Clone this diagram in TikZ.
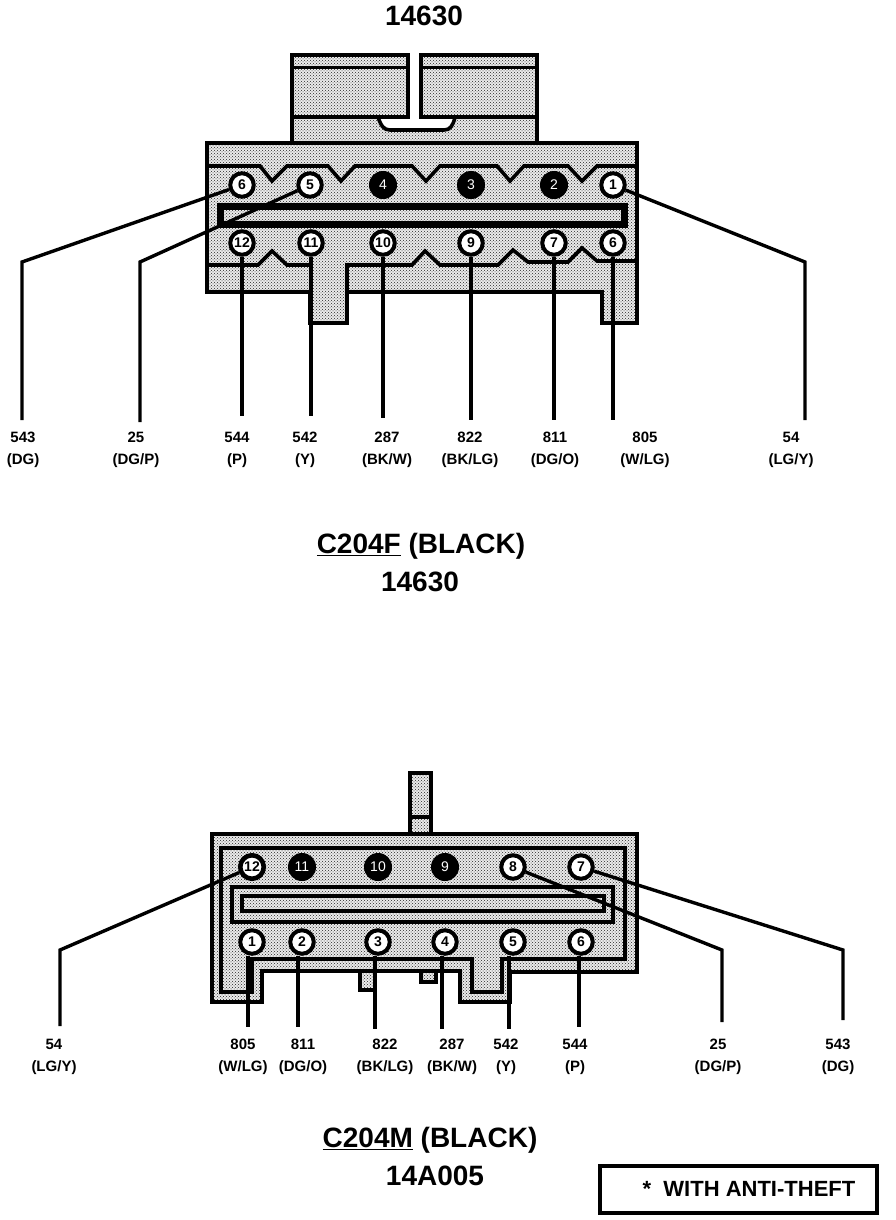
\documentclass[tikz,border=0pt]{standalone}
\usepackage{fontspec}
\setmainfont{Liberation Sans}
\usetikzlibrary{patterns}
\tikzset{
  x=1pt,y=-1pt,
  stip/.style={preaction={fill=black!8},pattern=crosshatch dots,pattern color=black!85},
  outl/.style={draw=black,line width=3.6pt,line join=miter},
  wire/.style={draw=black,line width=3.4pt,line join=miter},
  pin/.style={circle,draw=black,fill=white,line width=4pt,minimum size=23.5pt,inner sep=0pt,font=\fontsize{14}{14}\selectfont\bfseries},
  dead/.style={circle,draw=black,fill=black,text=white,line width=1pt,minimum size=27pt,inner sep=0pt,font=\fontsize{14}{14}\selectfont},
  wl/.style={align=center,inner sep=0pt,font=\fontsize{15}{21.5}\selectfont\bfseries},
  title/.style={inner sep=0pt,font=\fontsize{28}{28}\selectfont\bfseries},
}
\begin{document}
\begin{tikzpicture}
\useasboundingbox (0,0) rectangle (896,1220);
% ---- C204F connector
\path[stip] (292,55) -- (408,55) -- (408,117) -- (378,117) .. controls (381,126) and (384,130) .. (390,130) -- (444,130) .. controls (450,130) and (453,126) .. (455,117) -- (421,117) -- (421,55) -- (537,55) -- (537,143) -- (292,143) -- cycle;
\draw[outl] (292,143) -- (292,55) -- (408,55) -- (408,117) -- (292,117);
\draw[outl] (537,143) -- (537,55) -- (421,55) -- (421,117) -- (537,117);
\draw[outl] (292,67.5) -- (408,67.5) (421,67.5) -- (537,67.5);
\draw[outl] (378,117) .. controls (381,126) and (384,130) .. (390,130) -- (444,130) .. controls (450,130) and (453,126) .. (455,117);
\path[stip] (207,143) -- (637,143) -- (637,323) -- (602,323) -- (602,292) -- (347,292) -- (347,323) -- (310,323) -- (310,292) -- (207,292) -- cycle;
\draw[outl] (207,143) -- (637,143) -- (637,323) -- (602,323) -- (602,292) -- (347,292) -- (347,323) -- (310,323) -- (310,292) -- (207,292) -- cycle;
\draw[outl] (207,166) -- (260,166) -- (272,181) -- (287,166) -- (328,166) -- (341,181) -- (355,166) -- (412,166) -- (426,181) -- (440,166) -- (497,166) -- (510,181) -- (524,166) -- (568,166) -- (582,181) -- (597,166) -- (637,166);
\draw[outl] (207,265) -- (258,265) -- (272,251) -- (287,265) -- (310,265);
\draw[outl] (347,323) -- (347,265) -- (412,265) -- (425,251) -- (440,265) -- (498,265) -- (513,250) -- (528,262) -- (568,262) -- (582,248) -- (597,261) -- (637,261);
\draw[draw=black,line width=7.5pt] (220.5,206.5) rectangle (624.5,224.5);
% ---- pins C204F
\node[pin] (ta6) at (242,185) {6};
\node[pin] (ta5) at (310,185) {5};
\node[dead] (ta4) at (383,185) {4};
\node[dead] (ta3) at (471,185) {3};
\node[dead] (ta2) at (554,185) {2};
\node[pin] (ta1) at (613,185) {1};
\node[pin] (tb12) at (242,243) {12};
\node[pin] (tb11) at (311,243) {11};
\node[pin] (tb10) at (383,243) {10};
\node[pin] (tb9) at (471,243) {9};
\node[pin] (tb7) at (554,243) {7};
\node[pin] (tb6) at (613,243) {6};
\coordinate (tk6) at (22,262); \coordinate (te6) at (22,420);
\coordinate (tk5) at (140,262); \coordinate (te5) at (140,422);
\coordinate (tk1) at (805,262); \coordinate (te1) at (805,420);
\coordinate (te12) at (242,416); \coordinate (te11) at (311,416);
\coordinate (te10) at (383,418); \coordinate (te9) at (471,420);
\coordinate (te7) at (554,420); \coordinate (teb6) at (613,420);
\draw[wire] (ta6) -- (tk6) -- (te6);
\draw[wire] (ta5) -- (tk5) -- (te5);
\draw[wire] (ta1) -- (tk1) -- (te1);
\foreach \n/\e in {tb12/te12,tb11/te11,tb10/te10,tb9/te9,tb7/te7,tb6/teb6} \draw[wire] (\n) -- (\e);
% ---- labels C204F
\node[wl] (l1) at (23,450) {543\\(DG)};
\node[wl] (l2) at (136,450) {25\\(DG/P)};
\node[wl] (l3) at (237,450) {544\\(P)};
\node[wl] (l4) at (305,450) {542\\(Y)};
\node[wl] (l5) at (387,450) {287\\(BK/W)};
\node[wl] (l6) at (470,450) {822\\(BK/LG)};
\node[wl] (l7) at (555,450) {811\\(DG/O)};
\node[wl] (l8) at (645,450) {805\\(W/LG)};
\node[wl] (l9) at (791,450) {54\\(LG/Y)};
\node[title] (t0) at (424,16) {14630};
\node[title] (t1) at (421,546) {\underline{C204F} (BLACK)};
\node[title] (t2) at (420,582) {14630};
% ---- C204M connector
\path[stip] (410,773) rectangle (431,834);
\draw[outl] (410,834) -- (410,773) -- (431,773) -- (431,834);
\draw[outl] (410,817) -- (431,817);
\path[stip] (360,972) rectangle (375,990);
\draw[outl] (360,972) -- (360,990) -- (375,990) -- (375,972);
\path[stip] (421,972) rectangle (436,982);
\draw[outl] (421,972) -- (421,982) -- (436,982) -- (436,972);
\path[stip] (212,834) -- (637,834) -- (637,972) -- (510,972) -- (510,1002) -- (460,1002) -- (460,971) -- (262,971) -- (262,1002) -- (212,1002) -- cycle;
\draw[outl] (212,834) -- (637,834) -- (637,972) -- (510,972) -- (510,1002) -- (460,1002) -- (460,971) -- (262,971) -- (262,1002) -- (212,1002) -- cycle;
\draw[outl] (221,848) -- (625,848) -- (625,959) -- (502,959) -- (502,992) -- (472,992) -- (472,959) -- (252,959) -- (252,992) -- (221,992) -- cycle;
\draw[outl] (232,887) rectangle (613,922);
\draw[outl] (242,896) rectangle (604,911);
% ---- pins C204M
\node[pin,line width=4.6pt] (bp12) at (252,867) {12};
\node[dead] (ba11) at (302,867) {11};
\node[dead] (ba10) at (378,867) {10};
\node[dead] (ba9) at (445,867) {9};
\node[pin] (ba8) at (513,867) {8};
\node[pin] (ba7) at (581,867) {7};
\node[pin] (bb1) at (252,942) {1};
\node[pin] (bb2) at (302,942) {2};
\node[pin] (bb3) at (378,942) {3};
\node[pin] (bb4) at (445,942) {4};
\node[pin] (bb5) at (513,942) {5};
\node[pin] (bb6) at (581,942) {6};
\coordinate (bk12) at (60,950); \coordinate (be12) at (60,1026);
\coordinate (bk8) at (722,950); \coordinate (be8) at (722,1022);
\coordinate (bk7) at (843,950); \coordinate (be7) at (843,1020);
\coordinate (be1) at (248,1027); \coordinate (be2) at (298,1027);
\coordinate (be3) at (375,1029); \coordinate (be4) at (442,1029);
\coordinate (be5) at (509,1029); \coordinate (be6) at (579,1027);
\draw[wire] (bp12) -- (bk12) -- (be12);
\draw[wire] (ba8) -- (bk8) -- (be8);
\draw[wire] (ba7) -- (bk7) -- (be7);
\foreach \n/\e in {bb1/be1,bb2/be2,bb3/be3,bb4/be4,bb5/be5,bb6/be6} \draw[wire] (\e |- \n.south) -- (\e);
% ---- labels C204M
\node[wl] (m1) at (54,1057) {54\\(LG/Y)};
\node[wl] (m2) at (243,1057) {805\\(W/LG)};
\node[wl] (m3) at (303,1057) {811\\(DG/O)};
\node[wl] (m4) at (385,1057) {822\\(BK/LG)};
\node[wl] (m5) at (452,1057) {287\\(BK/W)};
\node[wl] (m6) at (506,1057) {542\\(Y)};
\node[wl] (m7) at (575,1057) {544\\(P)};
\node[wl] (m8) at (718,1057) {25\\(DG/P)};
\node[wl] (m9) at (838,1057) {543\\(DG)};
\node[title] (t3) at (430,1140) {\underline{C204M} (BLACK)};
\node[title] (t4) at (435,1176) {14A005};
\node[draw=black,line width=3.5pt,minimum width=277pt,minimum height=47pt,inner sep=0pt] (box) at (738.5,1189.5) {};
\node[inner sep=0pt,font=\fontsize{22}{22}\selectfont\bfseries] (boxt) at (749,1189) {*\ \ WITH ANTI-THEFT};
\end{tikzpicture}
\end{document}
